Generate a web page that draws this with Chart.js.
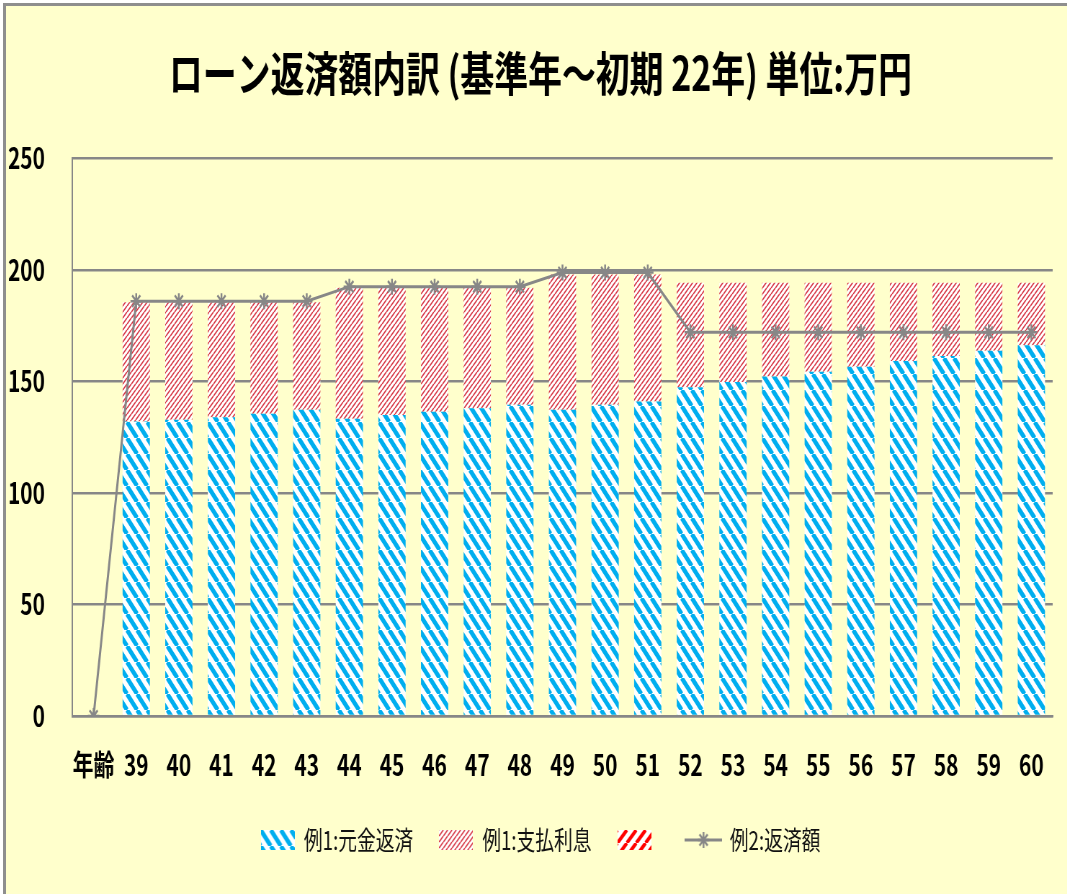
<!DOCTYPE html>
<html lang="ja">
<head>
<meta charset="utf-8">
<title>ローン返済額内訳</title>
<script src="https://cdn.jsdelivr.net/npm/chart.js@4.4.1/dist/chart.umd.min.js"></script>
<style>
  html, body { margin: 0; padding: 0; background: #fff; }
  #frame {
    position: absolute; left: 3px; top: 3px;
    width: 1064px; height: 891px; box-sizing: border-box;
    border-top: 3px solid #8e8e8e; border-left: 3px solid #8e8e8e;
    background: #ffffcc; overflow: hidden;
  }
  #loanChart { display: block; }
</style>
</head>
<body>
<!-- drawn wide, shown narrow: gives the condensed lettering -->
<div id="frame"><canvas id="loanChart" width="1484" height="888" style="width:1068.5px;height:888px"></canvas></div>
<script>
// 年齢ごとの返済額（万円）
const ages = ['年齢', '39', '40', '41', '42', '43', '44', '45', '46', '47', '48', '49',
  '50', '51', '52', '53', '54', '55', '56', '57', '58', '59', '60'];
const principal1 = [null, 132, 132.8, 134, 135.5, 137.3, 133.3, 134.9, 136.4, 138, 139.5, 137.3,
  139.5, 141, 147.4, 149.7, 152.2, 154.4, 156.6, 159.2, 161.4, 163.8, 166.2];
const interest1 = [null, 53.5, 52.7, 51.5, 50, 48.2, 58.7, 57.1, 55.6, 54, 52.5, 60.7,
  58.5, 57, 46.8, 44.5, 42, 39.8, 37.6, 35, 32.8, 30.4, 28];
const extra1 = ages.map(() => null);
const repay2 = [0, 186, 186, 186, 186, 186, 192.5, 192.5, 192.5, 192.5, 192.5, 198.8,
  198.8, 198.8, 172, 172, 172, 172, 172, 172, 172, 172, 172];

const FONT = '"Noto Sans CJK JP", sans-serif';
const GRAY = '#878787';

// diagonal stripe tile w x h; dir 'down' = "\", 'up' = "/"; fill = share of the stripe colour
function stripeTile(w, h, color, fill, dir) {
  const c = document.createElement('canvas');
  c.width = w; c.height = h;
  const g = c.getContext('2d');
  g.fillStyle = '#fff';
  g.fillRect(0, 0, w, h);
  g.strokeStyle = color;
  g.lineWidth = fill * w * h / Math.hypot(w, h);
  g.beginPath();
  for (let k = -1; k <= 1; k++) {
    if (dir === 'down') {
      g.moveTo(k * w, 0); g.lineTo(k * w + w, h);
    } else {
      g.moveTo(k * w, h); g.lineTo(k * w + w, 0);
    }
  }
  g.stroke();
  return c;
}

const tiles = [
  stripeTile(14, 16, '#00aeef', 0.5, 'down'),
  stripeTile(6, 6, '#d6303f', 0.36, 'up'),
  stripeTile(13, 13, '#ff0000', 0.45, 'up')
];

const canvas = document.getElementById('loanChart');
const ctx = canvas.getContext('2d');
const patterns = tiles.map(t => ctx.createPattern(t, 'repeat'));

// legend swatches
function boxSwatch(tile) {
  const c = document.createElement('canvas');
  c.width = 47; c.height = 20;
  const g = c.getContext('2d');
  g.fillStyle = g.createPattern(tile, 'repeat');
  g.fillRect(0, 0, c.width, c.height);
  return c;
}
function lineSwatch() {
  const c = document.createElement('canvas');
  c.width = 52; c.height = 20;
  const g = c.getContext('2d');
  g.strokeStyle = GRAY;
  g.lineWidth = 3;
  g.beginPath(); g.moveTo(0, 10); g.lineTo(52, 10); g.stroke();
  g.lineWidth = 2.5;
  Chart.helpers.drawPoint(g, { pointStyle: 'star', radius: 8, borderWidth: 2.5 }, 26, 10);
  return c;
}
const swatches = [boxSwatch(tiles[0]), boxSwatch(tiles[1]), boxSwatch(tiles[2]), lineSwatch()];

new Chart(canvas, {
  type: 'bar',
  data: {
    labels: ages,
    datasets: [{
      label: '例1:元金返済',
      data: principal1,
      backgroundColor: patterns[0],
      borderWidth: 0,
      stack: 'ex1',
      order: 1
    }, {
      label: '例1:支払利息',
      data: interest1,
      backgroundColor: patterns[1],
      borderWidth: 0,
      stack: 'ex1',
      order: 1
    }, {
      label: '',
      data: extra1,
      backgroundColor: patterns[2],
      borderWidth: 0,
      stack: 'ex1',
      order: 1
    }, {
      type: 'line',
      label: '例2:返済額',
      data: repay2,
      borderColor: GRAY,
      borderWidth: 3,
      tension: 0,
      pointStyle: 'star',
      pointRadius: 8,
      pointBorderWidth: 2.5,
      pointBorderColor: GRAY,
      pointBackgroundColor: GRAY,
      stack: 'ex2',
      order: 0
    }]
  },
  options: {
    responsive: false,
    animation: false,
    devicePixelRatio: 1,
    categoryPercentage: 0.8,
    barPercentage: 0.8,
    layout: { padding: { left: 0, right: 0, top: 0, bottom: 31 } },
    plugins: {
      title: {
        display: true,
        text: 'ローン返済額内訳 (基準年～初期 22年) 単位:万円',
        color: '#000',
        font: { family: FONT, size: 47, weight: 'bold' },
        padding: { top: 39, bottom: 57 }
      },
      legend: {
        position: 'bottom',
        labels: {
          usePointStyle: true,
          pointStyleWidth: 47,
          boxHeight: 20,
          padding: 36,
          color: '#111',
          font: { family: FONT, size: 26 },
          generateLabels: chart => chart.data.datasets.map((ds, i) => ({
            text: ds.label,
            pointStyle: swatches[i],
            fontColor: '#111',
            fillStyle: 'transparent',
            strokeStyle: 'transparent',
            lineWidth: 0,
            hidden: false,
            datasetIndex: i
          }))
        }
      },
      tooltip: { enabled: false }
    },
    scales: {
      x: {
        stacked: true,
        grid: { display: false, drawTicks: false },
        border: { display: true, color: GRAY, width: 2.5 },
        ticks: {
          color: '#000',
          font: { family: FONT, size: 29, weight: 'bold' },
          padding: 32,
          maxRotation: 0,
          autoSkip: false
        },
        afterFit: scale => { scale.height = 75; }
      },
      y: {
        stacked: true,
        min: 0,
        max: 250,
        ticks: {
          stepSize: 50,
          padding: 38,
          color: '#000',
          font: { family: FONT, size: 29, weight: 'bold' }
        },
        grid: { color: GRAY, lineWidth: 2.5, drawTicks: false },
        border: { display: true, color: GRAY, width: 2 },
        afterFit: scale => { scale.width = 92; }
      },
      // empty margin on the right side of the plot
      yRight: {
        position: 'right',
        display: true,
        grid: { display: false, drawTicks: false },
        border: { display: false },
        ticks: { display: false },
        afterFit: scale => { scale.width = 31; }
      }
    }
  }
});
</script>
</body>
</html>
